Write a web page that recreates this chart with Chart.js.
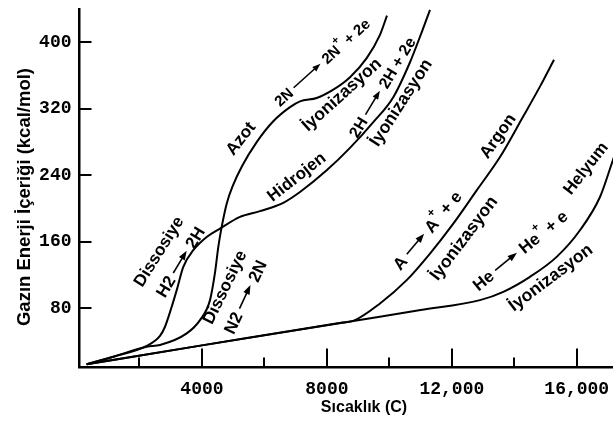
<!DOCTYPE html>
<html>
<head>
<meta charset="utf-8">
<script src="https://cdn.jsdelivr.net/npm/chart.js@4.4.0/dist/chart.umd.min.js"></script>
<style>
  html, body { margin: 0; padding: 0; background: #fff; }
  #wrap { width: 613px; height: 424px; }
</style>
</head>
<body>
<div id="wrap"><canvas id="c" width="613" height="424"></canvas></div>
<script>
// Enthalpy of gases vs. temperature: temperature (C) and energy content (kcal/mol)
const h2Temp   = [310, 1162, 2231, 2657, 2817, 3032, 3192, 3403, 3723, 4152, 4578, 5218, 5859, 6604, 7139, 7994, 8740, 9486, 10126, 10661, 11035, 11301];
const h2Energy = [13, 22, 35, 47, 58, 82, 102, 130, 150, 166, 176, 190, 197, 207, 220, 246, 273, 304, 334, 376, 412, 439];

const n2Temp   = [310, 1162, 2231, 2657, 3512, 3938, 4258, 4418, 4524, 4632, 4792, 4994, 5282, 5753, 6284, 6819, 7139, 7674, 8205, 8740, 9274, 9700, 9924];
const n2Energy = [13, 22, 34, 36, 50, 66, 90, 123, 154, 178, 206, 228, 251, 280, 305, 322, 329, 333, 343, 358, 381, 409, 432];

const arTemp   = [310, 4000, 8500, 8845, 9700, 10555, 11301, 12047, 12796, 13542, 14288, 14825, 15271];
const arEnergy = [13, 35.6, 63, 65, 86, 114, 146, 182, 222, 262, 311, 347, 379];

const heTemp   = [310, 4000, 8845, 11000, 12902, 13648, 14502, 15357, 16103, 16743, 17118, 17384];
const heEnergy = [13, 35.6, 65, 78, 90, 100, 118, 142, 174, 214, 254, 283];

// Axis ticks
const xMajorTicks = [4000, 8000, 12000, 16000];
const xMinorTicks = [2000, 6000, 10000, 14000];
const yTicks = [80, 160, 240, 320, 400];

// Curve annotations, anchored at (temperature, energy)
const noteText   = ['Dissosiye', 'H2 → 2H', 'Dissosiye', 'N2 → 2N', 'Azot', '2N → 2N^+ + 2e',
                    'İyonizasyon', 'Hidrojen', '2H → 2H + 2e', 'İyonizasyon',
                    'A → A^+ + e', 'Argon', 'İyonizasyon', 'He → He^+ + e', 'Helyum', 'İyonizasyon'];
const noteTemp   = [2593, 3297, 4706, 5378, 5218, 7843, 8452, 7011, 9764, 10341, 11205, 13446, 12357, 14182, 16263, 15143];
const noteEnergy = [149, 136, 106, 94, 285, 376, 338, 239, 346, 328, 174, 288, 165, 150, 249, 118];

// Presentation of the annotations
const noteAngle  = [-58, -59, -64, -65, -52, -42, -42, -38, -59, -57, -50, -55, -53, -39, -52, -37];
const noteSize   = [17, 17, 17, 17, 17, 15, 17.5, 17, 16, 17.5, 17, 17, 17.5, 17, 17, 17.5];
const noteArrow  = [26, 26, 26, 26, 0, 36, 0, 0, 28, 0, 27, 0, 0, 28, 0, 0];

const toPoints = (t, e) => t.map((v, i) => ({ x: v, y: e[i] }));

const SANS = '"Liberation Sans", Arial, Helvetica, sans-serif';
const MONO = '"Liberation Mono", "Courier New", monospace';

// Draws a short rotated label; '→' becomes a drawn arrow, '^x' a superscript.
function drawNote(ctx, text, cx, cy, angleDeg, size, arrowLen) {
  const font = `bold ${size}px ${SANS}`;
  const supFont = `bold ${Math.round(size * 0.72)}px ${SANS}`;
  const parts = [];
  let buf = '';
  for (let i = 0; i < text.length; i++) {
    const ch = text[i];
    if (ch === '→') { if (buf) parts.push({ t: buf }); buf = ''; parts.push({ arrow: true }); }
    else if (ch === '^' && i + 1 < text.length) { if (buf) parts.push({ t: buf }); buf = ''; parts.push({ sup: text[++i] }); }
    else buf += ch;
  }
  if (buf) parts.push({ t: buf });

  ctx.save();
  let total = 0;
  for (const p of parts) {
    if (p.arrow) p.w = arrowLen;
    else if (p.sup) { ctx.font = supFont; p.w = ctx.measureText(p.sup).width; }
    else { ctx.font = font; p.w = ctx.measureText(p.t).width; }
    total += p.w;
  }
  ctx.translate(cx, cy);
  ctx.rotate(angleDeg * Math.PI / 180);
  ctx.fillStyle = '#000';
  ctx.strokeStyle = '#000';
  ctx.textBaseline = 'alphabetic';
  ctx.textAlign = 'left';
  const base = size * 0.36;
  let x = -total / 2;
  for (const p of parts) {
    if (p.arrow) {
      const head = size * 0.55, half = size * 0.2;
      ctx.lineWidth = 1.6;
      ctx.beginPath();
      ctx.moveTo(x, 0);
      ctx.lineTo(x + p.w - head + 1, 0);
      ctx.stroke();
      ctx.beginPath();
      ctx.moveTo(x + p.w, 0);
      ctx.lineTo(x + p.w - head, -half);
      ctx.lineTo(x + p.w - head, half);
      ctx.closePath();
      ctx.fill();
    } else if (p.sup) {
      ctx.font = supFont;
      ctx.fillText(p.sup, x, base - size * 0.62);
    } else {
      ctx.font = font;
      ctx.fillText(p.t, x, base);
    }
    x += p.w;
  }
  ctx.restore();
}

const decorations = {
  id: 'decorations',
  afterDatasetsDraw(chart) {
    const { ctx, chartArea: a, scales: { x, y } } = chart;
    ctx.save();
    ctx.strokeStyle = '#000';
    ctx.lineWidth = 2;
    ctx.lineCap = 'butt';
    // inward tick marks
    ctx.beginPath();
    xMajorTicks.forEach(v => { const px = Math.round(x.getPixelForValue(v)); ctx.moveTo(px, a.bottom); ctx.lineTo(px, a.bottom - 19); });
    xMinorTicks.forEach(v => { const px = Math.round(x.getPixelForValue(v)); ctx.moveTo(px, a.bottom); ctx.lineTo(px, a.bottom - 10); });
    yTicks.forEach(v => { const py = Math.round(y.getPixelForValue(v)); ctx.moveTo(a.left, py); ctx.lineTo(a.left + 12, py); });
    ctx.stroke();

    // curve annotations
    noteText.forEach((t, i) => {
      drawNote(ctx, t, x.getPixelForValue(noteTemp[i]), y.getPixelForValue(noteEnergy[i]), noteAngle[i], noteSize[i], noteArrow[i]);
    });

    // axis titles
    ctx.fillStyle = '#000';
    ctx.textAlign = 'center';
    ctx.textBaseline = 'middle';
    ctx.font = `bold 16px ${SANS}`;
    ctx.fillText('Sıcaklık (C)', 364, 408);
    ctx.translate(25, 197);
    ctx.rotate(-Math.PI / 2);
    ctx.font = `bold 18.5px ${SANS}`;
    ctx.fillText('Gazın Enerji İçeriği (kcal/mol)', 0, 0);
    ctx.restore();
  }
};

const lineStyle = {
  borderColor: '#000',
  borderWidth: 2,
  pointRadius: 0,
  fill: false,
  cubicInterpolationMode: 'monotone'
};

new Chart(document.getElementById('c'), {
  type: 'line',
  data: {
    datasets: [
      { label: 'Hidrojen', data: toPoints(h2Temp, h2Energy), ...lineStyle },
      { label: 'Azot', data: toPoints(n2Temp, n2Energy), ...lineStyle },
      { label: 'Argon', data: toPoints(arTemp, arEnergy), ...lineStyle },
      { label: 'Helyum', data: toPoints(heTemp, heEnergy), ...lineStyle }
    ]
  },
  options: {
    responsive: false,
    animation: false,
    devicePixelRatio: 1,
    layout: { padding: { top: 9, right: 0, bottom: 0, left: 0 } },
    plugins: { legend: { display: false }, tooltip: { enabled: false } },
    scales: {
      x: {
        type: 'linear',
        min: 80,
        max: 17160,
        afterBuildTicks: s => { s.ticks = xMajorTicks.map(v => ({ value: v })); },
        afterFit: s => { s.height = 56.5; s.paddingLeft = 0; s.paddingRight = 0; },
        grid: { display: false, drawTicks: false },
        border: { display: true, color: '#000', width: 2.5 },
        ticks: {
          autoSkip: false,
          maxRotation: 0,
          padding: 11,
          color: '#000',
          font: { family: MONO, size: 18, weight: 'bold' },
          callback: v => v >= 10000 ? v.toLocaleString('en-US') : String(v)
        }
      },
      y: {
        type: 'linear',
        min: 9,
        max: 440,
        afterBuildTicks: s => { s.ticks = yTicks.map(v => ({ value: v })); },
        afterFit: s => { s.width = 79.5; s.paddingTop = 0; s.paddingBottom = 0; },
        grid: { display: false, drawTicks: false },
        border: { display: true, color: '#000', width: 2.5 },
        ticks: {
          padding: 8,
          color: '#000',
          font: { family: MONO, size: 18, weight: 'bold' }
        }
      }
    }
  },
  plugins: [decorations]
});
</script>
</body>
</html>
